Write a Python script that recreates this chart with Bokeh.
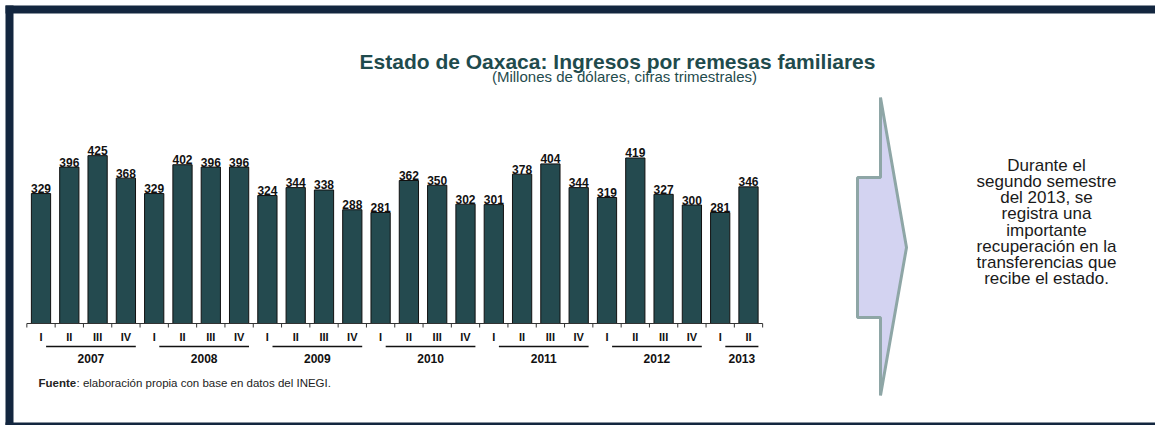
from bokeh.plotting import figure
from bokeh.models import Range1d
from bokeh.core.properties import value
from bokeh.embed import file_html
from bokeh.resources import INLINE

# ---------------- data ----------------
years = ["2007", "2008", "2009", "2010", "2011", "2012", "2013"]
quarters_per_year = [4, 4, 4, 4, 4, 4, 2]
quarter_labels = ["I", "II", "III", "IV", "I", "II", "III", "IV",
                  "I", "II", "III", "IV", "I", "II", "III", "IV",
                  "I", "II", "III", "IV", "I", "II", "III", "IV",
                  "I", "II"]
remesas = [329, 396, 425, 368, 329, 402, 396, 396,
           324, 344, 338, 288, 281, 362, 350, 302,
           301, 378, 404, 344, 319, 419, 327, 300,
           281, 346]
title_text = "Estado de Oaxaca: Ingresos por remesas familiares"
subtitle_text = "(Millones de dólares, cifras trimestrales)"
source_bold = "Fuente"
source_rest = ": elaboración propia con base en datos del INEGI."
note_lines = ["Durante el", "segundo semestre", "del 2013, se", "registra una",
              "importante", "recuperación en la", "transferencias que",
              "recibe el estado."]

# ---------------- layout ----------------
W, H = 1155, 425
PITCH = 28.3
X0 = 40.5          # pixel centre of first bar
BASE = 323         # pixel row of the value axis baseline
SCALE = 0.395      # pixels per million dollars

FONT = value("Liberation Sans")
TEAL = "#1f4b4d"
BAR = "#244a4f"

p = figure(width=W, height=H, title=None,
           x_range=Range1d(-X0 / PITCH, (W - X0) / PITCH),
           y_range=Range1d(-(H - BASE) / SCALE, BASE / SCALE),
           x_axis_type=None, y_axis_type=None,
           output_backend="svg", toolbar_location=None,
           min_border=0, outline_line_color=None,
           background_fill_color="white", border_fill_color="white")
p.extra_x_ranges = {"px": Range1d(0, W)}
p.extra_y_ranges = {"py": Range1d(H, 0)}

idx = list(range(len(remesas)))

# frame of the slide
p.quad(left=[5, 5, 5], right=[W, 13, W], top=[5, 5, 422], bottom=[13, H, H],
       x_range_name="px", y_range_name="py",
       fill_color="#13263f", line_color=None)

# bars
p.vbar(x=idx, top=remesas, bottom=0, width=0.68,
       fill_color=BAR, line_color="#111111", line_width=1)

# value labels
p.text(x=idx, y=remesas, text=[str(v) for v in remesas],
       text_font=FONT, text_font_style="bold", text_font_size="12px",
       text_color="#111111", text_align="center", text_baseline="alphabetic",
       y_offset=-5)

# category axis line and ticks
n = len(remesas)
p.segment(x0=[-0.5], y0=[BASE], x1=[n - 0.5], y1=[BASE],
          y_range_name="py", line_color="#333333", line_width=1)
p.segment(x0=[k - 0.5 for k in range(n + 1)], y0=[BASE] * (n + 1),
          x1=[k - 0.5 for k in range(n + 1)], y1=[BASE + 4] * (n + 1),
          y_range_name="py", line_color="#333333", line_width=1)

# quarter labels
p.text(x=idx, y=[BASE + 13] * n, text=quarter_labels, y_range_name="py",
       text_font=FONT, text_font_style="bold", text_font_size="11px",
       text_color="#111111", text_align="center", text_baseline="middle")

# year groups
starts, ends = [], []
i = 0
for q in quarters_per_year:
    starts.append(i + 0.18)
    ends.append(i + q - 1 + 0.35)
    i += q
p.segment(x0=starts, y0=[BASE + 23] * len(years), x1=ends, y1=[BASE + 23] * len(years),
          y_range_name="py", line_color="#111111", line_width=1.5)
p.text(x=[(a + b) / 2 for a, b in zip(starts, ends)], y=[BASE + 35] * len(years),
       text=years, y_range_name="py",
       text_font=FONT, text_font_style="bold", text_font_size="12px",
       text_color="#111111", text_align="center", text_baseline="middle")

# titles
p.text(x=[617], y=[61], text=[title_text], x_range_name="px", y_range_name="py",
       text_font=FONT, text_font_style="bold", text_font_size="21px",
       text_color=TEAL, text_align="center", text_baseline="alphabetic")
p.text(x=[624], y=[76], text=[subtitle_text], x_range_name="px", y_range_name="py",
       text_font=FONT, text_font_size="15px",
       text_color=TEAL, text_align="center", text_baseline="alphabetic")

# source note
p.text(x=[38], y=[382], text=[source_bold], x_range_name="px", y_range_name="py",
       text_font=FONT, text_font_style="bold", text_font_size="11.5px",
       text_color="#222222", text_align="left", text_baseline="alphabetic")
p.text(x=[76], y=[382], text=[source_rest], x_range_name="px", y_range_name="py",
       text_font=FONT, text_font_size="11.5px",
       text_color="#222222", text_align="left", text_baseline="alphabetic")

# arrow shape
p.patch(x=[880, 906, 880, 880, 857, 857, 880],
        y=[97, 247, 395, 317, 317, 177, 177],
        x_range_name="px", y_range_name="py",
        fill_color="#d3d3f1", line_color="#8ea6a6", line_width=3)

# note text
p.text(x=[1046] * len(note_lines), y=[165 + k * 16.15 for k in range(len(note_lines))],
       text=note_lines, x_range_name="px", y_range_name="py",
       text_font=FONT, text_font_size="17px",
       text_color="#1a1a1a", text_align="center", text_baseline="middle")

open("out.html", "w").write(file_html(p, INLINE))
